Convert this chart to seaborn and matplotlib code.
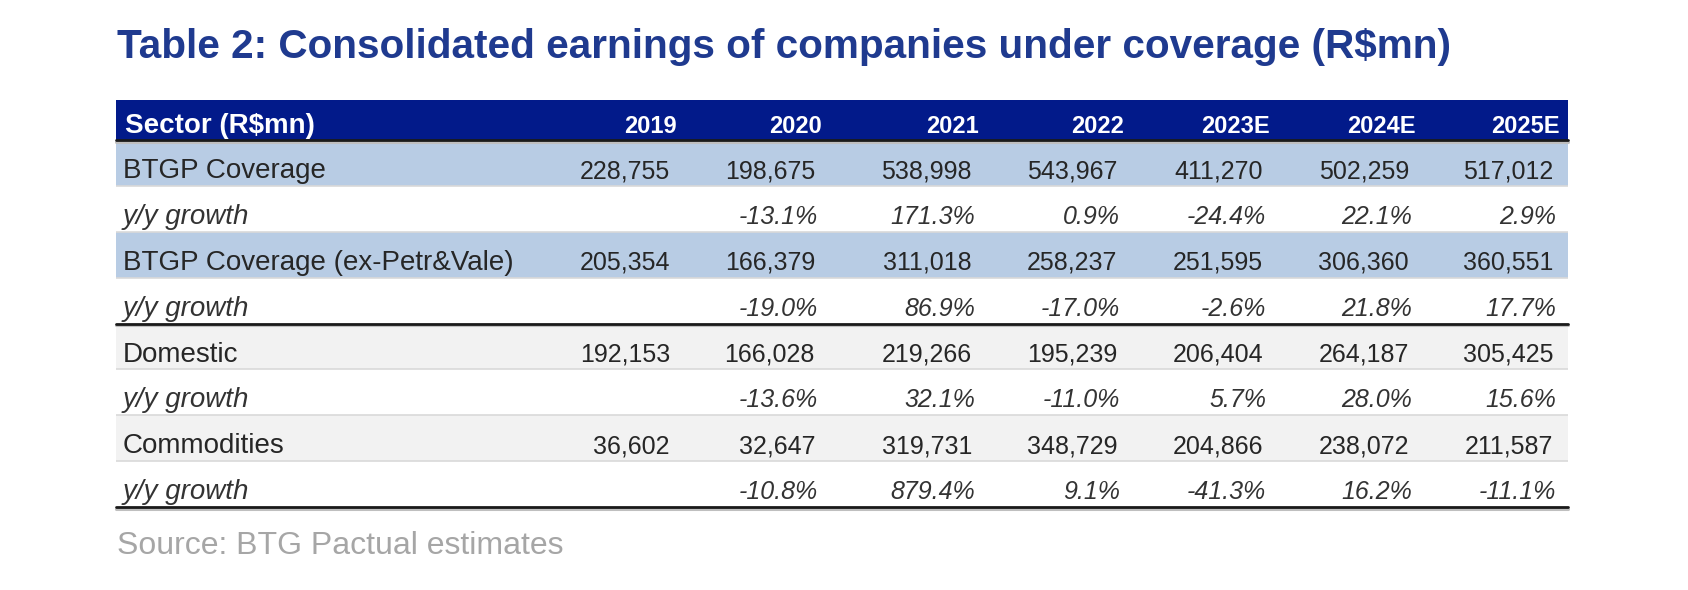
import numpy as np
import matplotlib
matplotlib.use('Agg')
import matplotlib.pyplot as plt
from matplotlib import font_manager
from matplotlib.colors import ListedColormap
from matplotlib.transforms import blended_transform_factory
import seaborn as sns

# dữ liệu bảng
title = 'Table 2: Consolidated earnings of companies under coverage (R$mn)'
source = 'Source: BTG Pactual estimates'
header_label = 'Sector (R$mn)'
years = ['2019', '2020', '2021', '2022', '2023E', '2024E', '2025E']
sectors = ['BTGP Coverage', 'BTGP Coverage (ex-Petr&Vale)', 'Domestic', 'Commodities']
growth_label = 'y/y growth'

btgp = [228755, 198675, 538998, 543967, 411270, 502259, 517012]
btgp_ex = [205354, 166379, 311018, 258237, 251595, 306360, 360551]
domestic = [192153, 166028, 219266, 195239, 206404, 264187, 305425]
commodities = [36602, 32647, 319731, 348729, 204866, 238072, 211587]

btgp_g = [None, -13.1, 171.3, 0.9, -24.4, 22.1, 2.9]
btgp_ex_g = [None, -19.0, 86.9, -17.0, -2.6, 21.8, 17.7]
domestic_g = [None, -13.6, 32.1, -11.0, 5.7, 28.0, 15.6]
commodities_g = [None, -10.8, 879.4, 9.1, -41.3, 16.2, -11.1]

values = [btgp, btgp_ex, domestic, commodities]
growths = [btgp_g, btgp_ex_g, domestic_g, commodities_g]

# màu nền từng hàng: 0 header, 1 xanh nhạt, 2 trắng, 3 xám nhạt
row_kind = [0, 1, 2, 1, 2, 3, 2, 3, 2]
row_units = [7, 8, 8, 8, 8, 8, 8, 8, 8]
colors = ['#021A8A', '#B8CCE4', '#FFFFFF', '#F2F2F2']

sns.set_theme(style='white')
installed = {f.name for f in font_manager.fontManager.ttflist}
narrow = 'Liberation Sans Narrow' in installed
plt.rcParams['font.family'] = ['Liberation Sans', 'DejaVu Sans']
num_family = 'Liberation Sans Narrow' if narrow else 'Liberation Sans'
num_size = 21.5 if narrow else 18
head_size = 20.5 if narrow else 17

W, H = 1688, 590
fig = plt.figure(figsize=(W / 100, H / 100), dpi=100)

tx0, tx1, ty0, ty1 = 116, 1568, 100, 507
ax = fig.add_axes([tx0 / W, 1 - ty1 / H, (tx1 - tx0) / W, (ty1 - ty0) / H])

codes = np.repeat(row_kind, row_units).reshape(-1, 1)
sns.heatmap(codes, cmap=ListedColormap(colors), vmin=-0.5, vmax=3.5, cbar=False,
            xticklabels=False, yticklabels=False, ax=ax)
ax.set_axis_off()

total = sum(row_units)
px = total / (ty1 - ty0)          # đơn vị heatmap trên mỗi pixel
tops = np.concatenate([[0], np.cumsum(row_units)])
tr = blended_transform_factory(ax.transAxes, ax.transData)


def fx(p):
    return (p - tx0) / (tx1 - tx0)


num_right = [670, 815, 972, 1117, 1263, 1409, 1553]
head_right = [r + 7 for r in num_right]
pct_right = [r + 3 for r in num_right]

# đường kẻ
for i in [2, 3, 4, 6, 7, 8]:
    ax.axhline(tops[i], color='#D9D9D9', lw=1.2)
for i in [1, 5, 9]:
    ax.axhline(tops[i] + 1.8 * px, color='#BFBFBF', lw=2.2, clip_on=False)
    ax.axhline(tops[i], color='#1A1A1A', lw=2, clip_on=False)

# tiêu đề cột
base = tops[0] + 33 * px
ax.text(fx(125), base, header_label, transform=tr, color='white', fontsize=20,
        fontweight='bold', va='baseline', ha='left')
for y, r in zip(years, head_right):
    ax.text(fx(r), base, y, transform=tr, color='white', fontsize=head_size,
            fontweight='bold', family=num_family, va='baseline', ha='right')

# các hàng
for k, name in enumerate(sectors):
    i = 1 + 2 * k
    base = tops[i] + 38 * px
    ax.text(fx(123), base, name, transform=tr, color='#262626', fontsize=20,
            va='baseline', ha='left')
    for v, r in zip(values[k], num_right):
        ax.text(fx(r), base, f'{v:,}', transform=tr, color='#262626',
                fontsize=num_size, family=num_family, va='baseline', ha='right')
    base = tops[i + 1] + 38 * px
    ax.text(fx(123), base, growth_label, transform=tr, color='#333333', fontsize=20,
            style='italic', va='baseline', ha='left')
    for g, r in zip(growths[k], pct_right):
        if g is None:
            continue
        ax.text(fx(r), base, f'{g:.1f}%', transform=tr, color='#333333',
                fontsize=num_size, family=num_family, style='italic',
                va='baseline', ha='right')

fig.text(117 / W, 1 - 58 / H, title, color='#1F3A8F', fontsize=29.2,
         fontweight='bold', va='baseline', ha='left')
fig.text(117 / W, 1 - 554 / H, source, color='#A6A6A6', fontsize=23,
         va='baseline', ha='left')

fig.savefig('out.png', dpi=100)
